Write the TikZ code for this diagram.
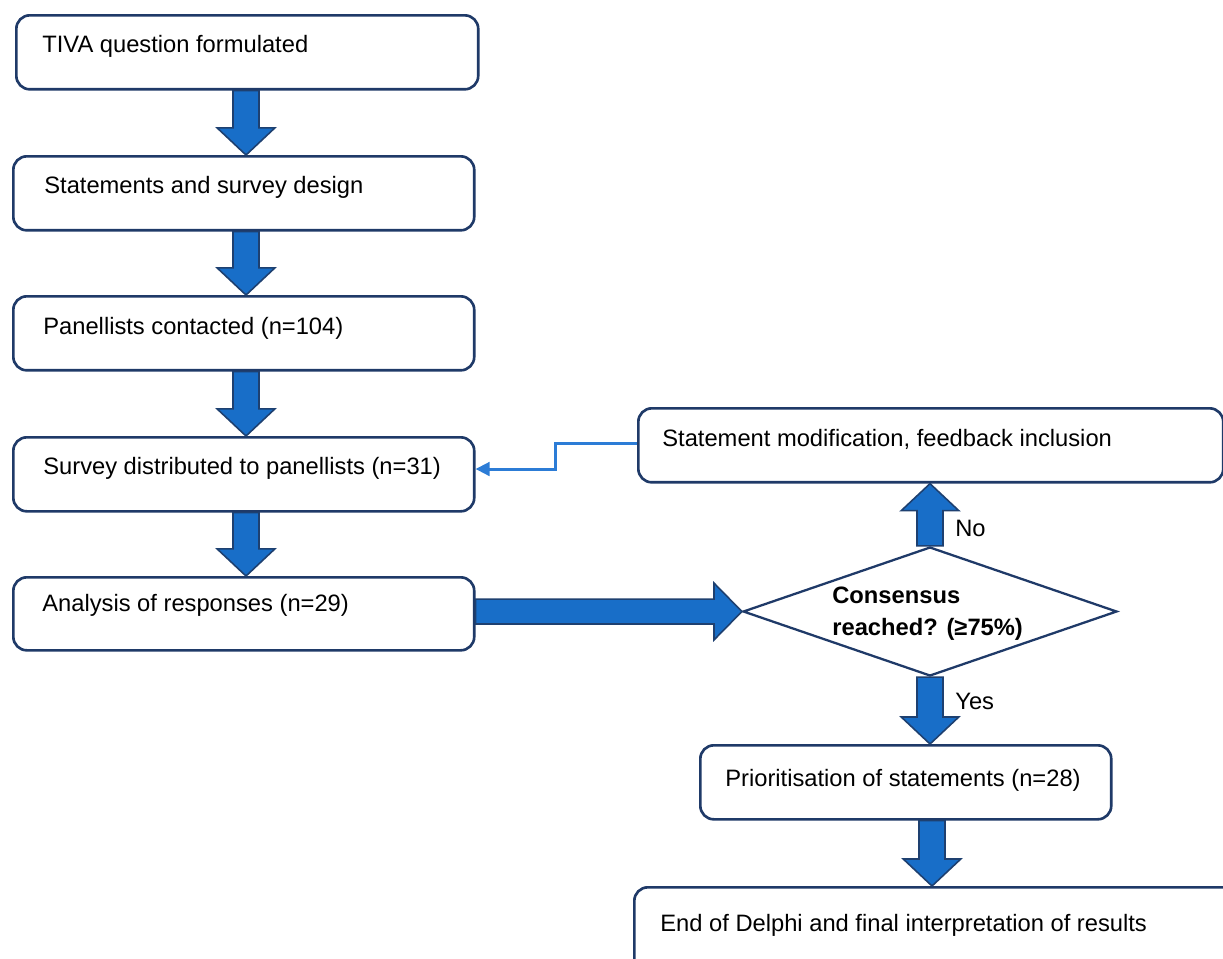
\documentclass[tikz,border=0pt]{standalone}
\usepackage{fontspec}
\setmainfont{Liberation Sans}
\usetikzlibrary{calc,arrows.meta,shapes.geometric}
\definecolor{boxc}{RGB}{31,58,104}
\definecolor{arrowc}{RGB}{24,110,200}
\definecolor{arrowedge}{RGB}{30,64,112}
\definecolor{connc}{RGB}{44,124,214}
\newcommand\vblk[3]{\draw[blk] let \p1=(#1), \p2=(#2) in
 (\x1-7.4pt,\y1) -- (\x1-7.4pt,\y2+#3*15.4pt) -- (\x1-16.4pt,\y2+#3*15.4pt) -- (\x1,\y2) --
 (\x1+16.4pt,\y2+#3*15.4pt) -- (\x1+7.4pt,\y2+#3*15.4pt) -- (\x1+7.4pt,\y1) -- cycle;}
\begin{document}
\begin{tikzpicture}[x=0.02cm,y=-0.02cm,
  box/.style={draw=boxc, line width=1.5pt, rounded corners=0.27cm, fill=white, inner sep=0pt, anchor=north west, minimum height=1.48cm},
  txt/.style={anchor=base west, inner sep=0pt, font=\fontsize{13.5}{16}\selectfont},
  btxt/.style={txt, font=\fontsize{13.5}{16}\selectfont\bfseries},
  blk/.style={fill=arrowc, draw=arrowedge, line width=0.9pt, line join=miter},
  conn/.style={draw=connc, line width=1.7pt, -{Triangle[length=0.28cm,width=0.27cm]}}]
\clip (0,0) rectangle (1223,958);
\fill[white] (0,0) rectangle (1223,958);
% boxes
\node[box, minimum width=9.24cm] (b1) at (15,14) {};
\node[box, minimum width=9.22cm] (b2) at (12,155) {};
\node[box, minimum width=9.22cm] (b3) at (12,295) {};
\node[box, minimum width=9.22cm] (b4) at (12,436) {};
\node[box, minimum width=9.22cm, minimum height=1.46cm] (b5) at (12,576) {};
\node[box, minimum width=11.7cm] (sm) at (637,407) {};
\node[box, minimum width=8.22cm] (pr) at (699,744) {};
\node[box, minimum width=13cm, minimum height=2.4cm] (en) at (633,886) {};
\node[diamond, draw=boxc, line width=1.3pt, fill=white, inner sep=0pt,
      minimum width=7.48cm, minimum height=2.58cm] (dia) at (930,611.5) {};
% texts
\node[txt] (t1) at (42,52) {TIVA question formulated};
\node[txt] (t2) at (44,193.5) {Statements and survey design};
\node[txt] (t3) at (43,334.5) {Panellists contacted (n=104)};
\node[txt] (t4) at (43,474.5) {Survey distributed to panellists (n=31)};
\node[txt] (t5) at (42,611.5) {Analysis of responses (n=29)};
\node[txt] (tsm) at (662,446.5) {Statement modification, feedback inclusion};
\node[txt] (tpr) at (725,786.5) {Prioritisation of statements (n=28)};
\node[txt] (ten) at (660,931.5) {End of Delphi and final interpretation of results};
\node[btxt] (d1) at (832,603.5) {Consensus};
\node[btxt] (d2) at (832,635.5) {reached? (≥75\%)};
\node[txt] (no) at (955,536.5) {No};
\node[txt] (yes) at (955,709.5) {Yes};
% block arrows
\coordinate (ax) at (246,0);
\vblk{b1.south -| ax}{b2.north -| ax}{1}
\vblk{b2.south -| ax}{b3.north -| ax}{1}
\vblk{b3.south -| ax}{b4.north -| ax}{1}
\vblk{b4.south -| ax}{b5.north -| ax}{1}
\vblk{dia.north}{sm.south -| dia.north}{-1}
\vblk{dia.south}{pr.north -| dia.south}{1}
\coordinate (bx) at (932,0);
\vblk{pr.south -| bx}{en.north -| bx}{1}
\draw[blk] let \p1=(b5.east |- dia.west), \p2=(dia.west) in
 (\x1,\y2+7.1pt) -- (\x2-15.9pt,\y2+7.1pt) -- (\x2-15.9pt,\y2+16.2pt) -- (\x2,\y2) --
 (\x2-15.9pt,\y2-16.2pt) -- (\x2-15.9pt,\y2-7.1pt) -- (\x1,\y2-7.1pt) -- cycle;
% feedback connector
\draw[conn] (sm.west |- 0,443) -- (555,443) -- (555,469) -- (b4.east |- 0,469);
\end{tikzpicture}
\end{document}
